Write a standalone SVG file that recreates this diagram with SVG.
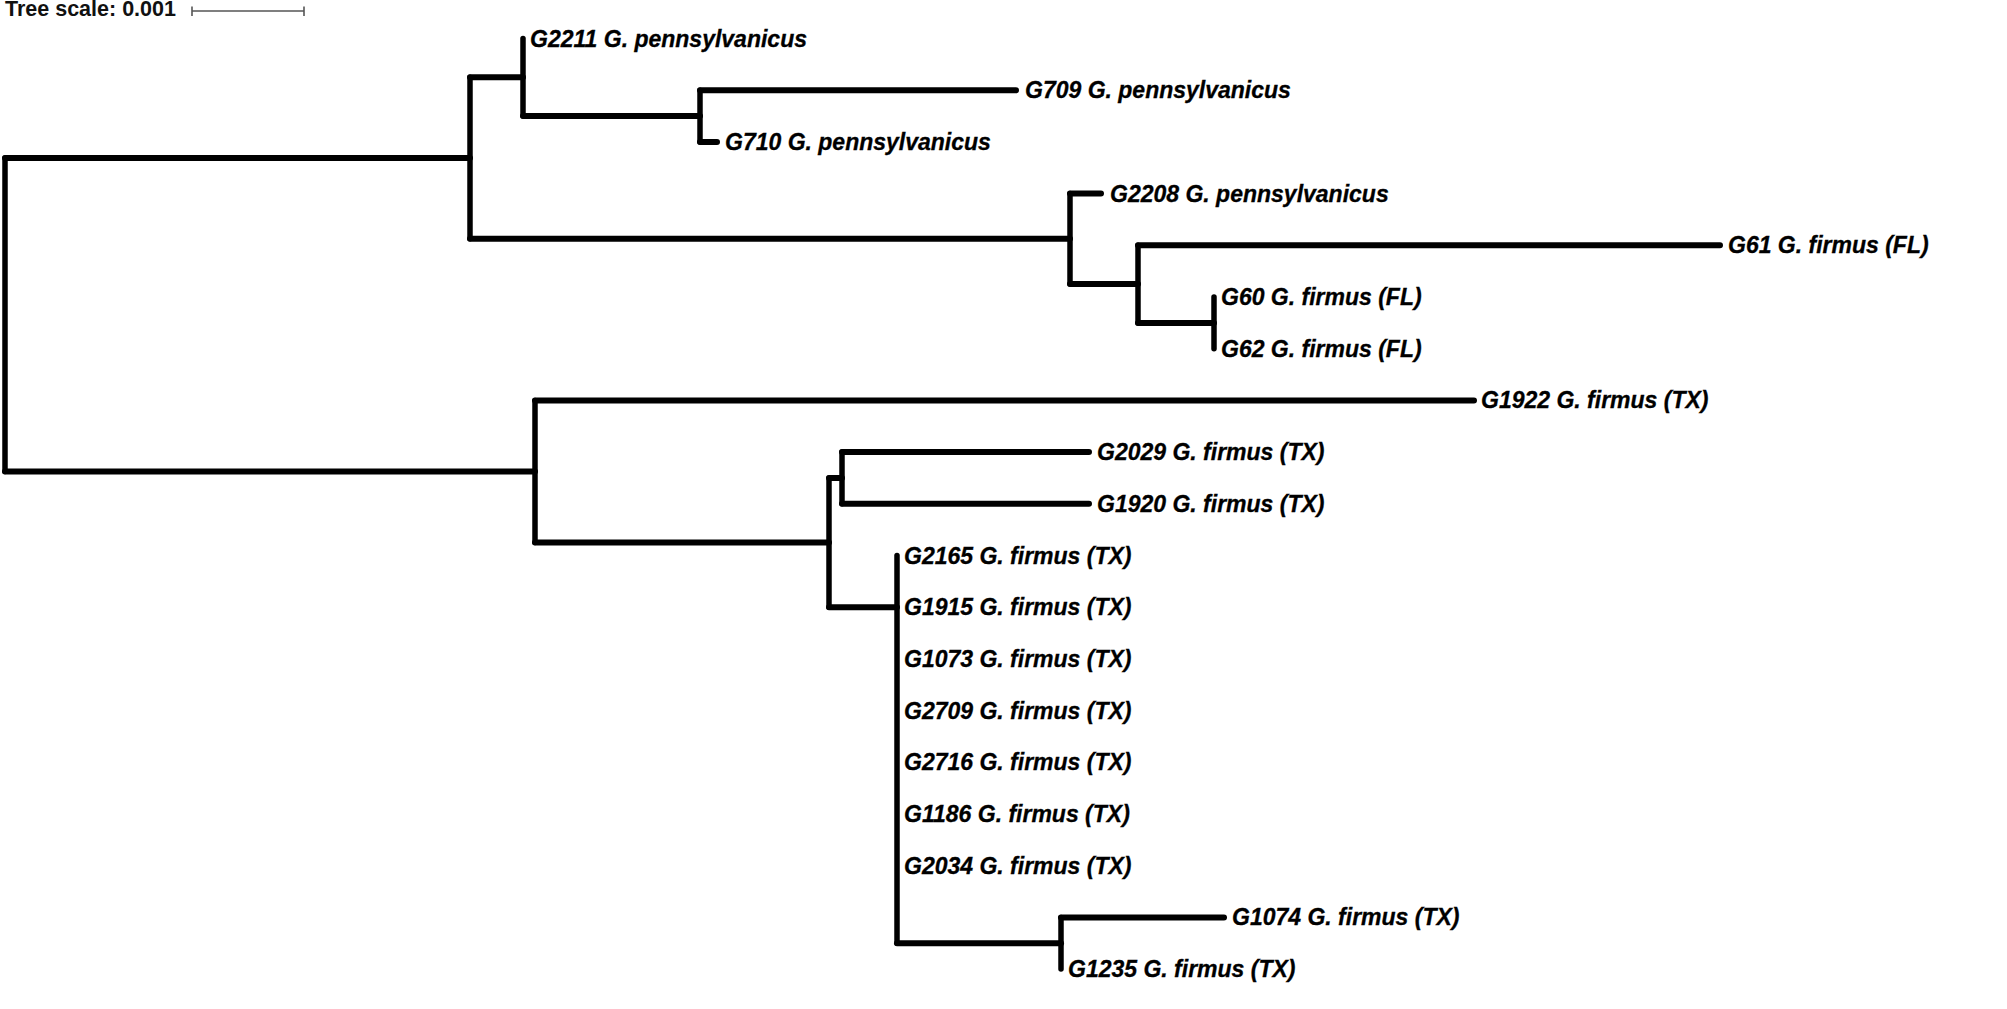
<svg xmlns="http://www.w3.org/2000/svg" width="2007" height="1009" viewBox="0 0 2007 1009">
<style>
.h{stroke:#000;stroke-width:6;stroke-linecap:round;fill:none}
.v{stroke:#000;stroke-width:5.5;stroke-linecap:round;fill:none}
.lbl{font-family:"Liberation Sans",Arial,sans-serif;font-weight:bold;font-style:italic;font-size:23px;fill:#000;stroke:#000;stroke-width:0.3}
.sc{font-family:"Liberation Sans",Arial,sans-serif;font-weight:bold;font-size:21.5px;fill:#111}
.bar{stroke:#555;stroke-width:1.6;fill:none}
</style>
<rect width="2007" height="1009" fill="#fff"/>
<g id="scale">
<text class="sc" x="5" y="16">Tree scale: 0.001</text>
<path class="bar" d="M192 11H304M192 6.5V16M304 6.5V16"/>
</g>
<g id="connectors">
<path class="v" d="M5 158V471.5"/>
<path class="h" d="M5 158H470M5 471.5H535"/>
<path class="v" d="M470 77.3V238.8"/>
<path class="h" d="M470 77.3H523M470 238.8H1070"/>
<path class="v" d="M523 38.5V116"/>
<path class="h" d="M523 116H700"/>
<path class="v" d="M700 90.2V141.9"/>
<path class="h" d="M700 90.2H1016M700 141.9H717"/>
<path class="v" d="M1070 193.6V284.1"/>
<path class="h" d="M1070 193.6H1101M1070 284.1H1138"/>
<path class="v" d="M1138 245.3V322.9"/>
<path class="h" d="M1138 245.3H1720M1138 322.9H1214"/>
<path class="v" d="M1214 297V348.7"/>
<path class="v" d="M535 400.4V542.6"/>
<path class="h" d="M535 400.4H1474M535 542.6H829"/>
<path class="v" d="M829 478V607.2"/>
<path class="h" d="M829 478H842M829 607.2H897"/>
<path class="v" d="M842 452.1V503.8"/>
<path class="h" d="M842 452.1H1089M842 503.8H1089"/>
<path class="v" d="M897 555.5V943.2"/>
<path class="h" d="M897 943.2H1061"/>
<path class="v" d="M1061 917.4V969.1"/>
<path class="h" d="M1061 917.4H1224"/>
</g>
<g id="leaf-G2211"><text class="lbl" x="530" y="46.5">G2211 G. pennsylvanicus</text></g>
<g id="leaf-G709"><text class="lbl" x="1025" y="98.2">G709 G. pennsylvanicus</text></g>
<g id="leaf-G710"><text class="lbl" x="725" y="149.9">G710 G. pennsylvanicus</text></g>
<g id="leaf-G2208"><text class="lbl" x="1110" y="201.6">G2208 G. pennsylvanicus</text></g>
<g id="leaf-G61"><text class="lbl" x="1728" y="253.3">G61 G. firmus (FL)</text></g>
<g id="leaf-G60"><text class="lbl" x="1221" y="305">G60 G. firmus (FL)</text></g>
<g id="leaf-G62"><text class="lbl" x="1221" y="356.7">G62 G. firmus (FL)</text></g>
<g id="leaf-G1922"><text class="lbl" x="1481" y="408.4">G1922 G. firmus (TX)</text></g>
<g id="leaf-G2029"><text class="lbl" x="1097" y="460.1">G2029 G. firmus (TX)</text></g>
<g id="leaf-G1920"><text class="lbl" x="1097" y="511.8">G1920 G. firmus (TX)</text></g>
<g id="leaf-G2165"><text class="lbl" x="904" y="563.5">G2165 G. firmus (TX)</text></g>
<g id="leaf-G1915"><text class="lbl" x="904" y="615.2">G1915 G. firmus (TX)</text></g>
<g id="leaf-G1073"><text class="lbl" x="904" y="666.9">G1073 G. firmus (TX)</text></g>
<g id="leaf-G2709"><text class="lbl" x="904" y="718.6">G2709 G. firmus (TX)</text></g>
<g id="leaf-G2716"><text class="lbl" x="904" y="770.3">G2716 G. firmus (TX)</text></g>
<g id="leaf-G1186"><text class="lbl" x="904" y="822">G1186 G. firmus (TX)</text></g>
<g id="leaf-G2034"><text class="lbl" x="904" y="873.7">G2034 G. firmus (TX)</text></g>
<g id="leaf-G1074"><text class="lbl" x="1232" y="925.4">G1074 G. firmus (TX)</text></g>
<g id="leaf-G1235"><text class="lbl" x="1068" y="977.1">G1235 G. firmus (TX)</text></g>
</svg>
